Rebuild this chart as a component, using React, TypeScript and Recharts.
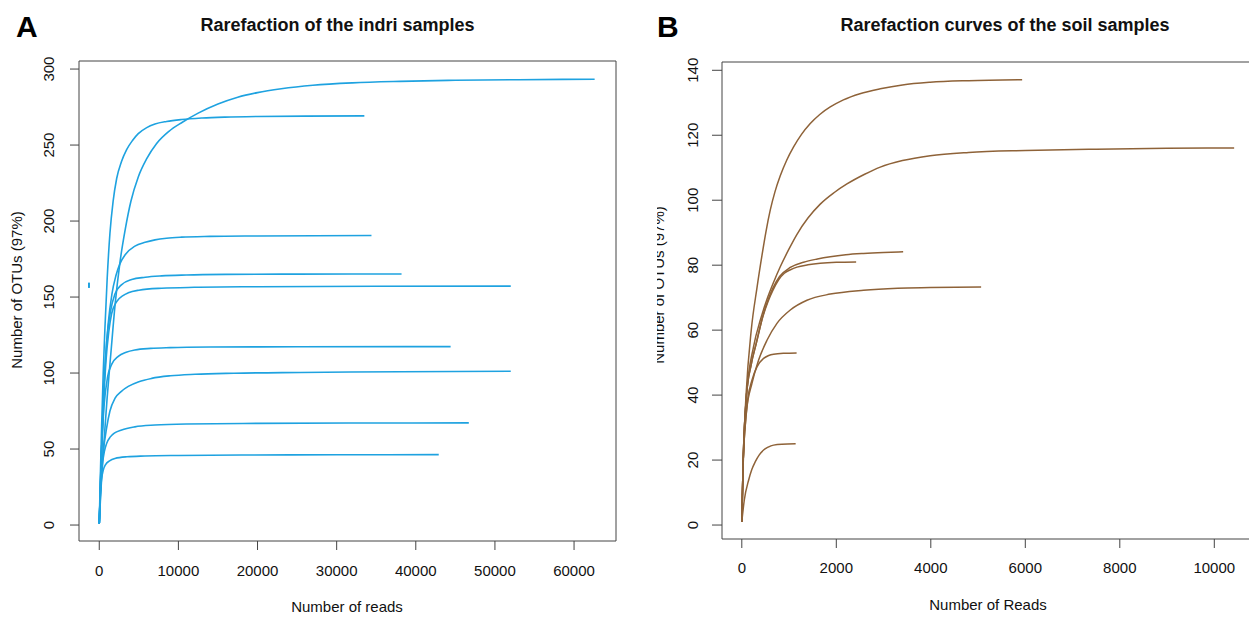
import React from "react";
import { LineChart, Line, XAxis, YAxis, ReferenceArea } from "recharts";

// ---------- Panel A: indri samples, [reads, OTUs] ----------
const indriCurve1 = [[0,1],[200,22],[500,48],[1000,84],[1500,115],[2000,145],[2620,173],[3300,195],[4000,213],[4930,229],[6000,241],[7250,251],[8800,259],[10500,265],[12500,271],[15000,277],[17500,281.5],[20000,284.5],[23000,287],[27000,289.3],[32000,290.9],[38000,291.9],[45000,292.6],[53000,293],[62600,293.3]];
const indriCurve2 = [[0,1],[150,35],[300,65],[500,100],[720,130],[1000,162],[1350,192],[1750,213],[2200,228],[2800,239],[3460,247],[4200,253],[4930,257.5],[6000,261.5],[7040,263.8],[8500,265.5],[10400,266.8],[13000,267.8],[15900,268.4],[20000,268.8],[26000,269],[33500,269.2]];
const indriCurve3 = [[0,1],[200,35],[500,80],[800,110],[1140,133],[1600,152],[2100,164],[2620,172],[3300,178],[4510,183.5],[5800,186],[7040,187.6],[8500,188.7],[10400,189.4],[14000,189.9],[20000,190.2],[34400,190.5]];
const indriCurve4 = [[0,1],[300,50],[600,92],[930,120],[1400,140],[1980,152],[2800,158],[4100,161.5],[5800,163],[7880,163.9],[11000,164.5],[16000,164.9],[25000,165.1],[38200,165.2]];
const indriCurve5 = [[0,1],[300,48],[600,86],[850,108],[1200,127],[1560,139],[2200,147],[3000,151],[3670,152.8],[5000,154.5],[7880,155.8],[12000,156.4],[20000,156.8],[35000,157.1],[52000,157.2]];
const indriCurve6 = [[0,1],[250,45],[600,78],[1060,97.6],[1600,106],[2400,111],[3400,113.7],[4510,115.2],[6500,116.2],[8950,116.7],[14000,117.1],[25000,117.3],[44400,117.4]];
const indriCurve7 = [[0,1],[200,30],[500,48],[900,63],[1350,75],[2000,83.5],[2800,88],[3670,91.2],[5000,94.3],[6620,96.5],[9000,98.2],[12100,99.2],[17000,99.9],[25400,100.4],[38000,100.9],[52000,101.2]];
const indriCurve8 = [[0,1],[200,26],[400,40],[650,48.5],[930,53.7],[1400,58],[2000,60.8],[2830,62.6],[4500,64.6],[7040,65.8],[11000,66.5],[20000,66.9],[32000,67.1],[46700,67.2]];
const indriCurve9 = [[0,1],[150,22],[300,30.5],[500,36],[800,39.8],[1300,42.2],[1980,43.8],[3500,44.9],[5780,45.4],[10000,45.8],[18000,46.1],[30000,46.2],[42900,46.3]];
const indriStray = [[-1300,156],[-1300,159.5]];

const indriXTicks = [0, 10000, 20000, 30000, 40000, 50000, 60000];
const indriYTicks = [0, 50, 100, 150, 200, 250, 300];

// ---------- Panel B: soil samples, [reads, OTUs] ----------
const soilCurve1 = [[0,1],[30,20],[90,40],[200,60],[321,73],[427,83],[510,90.2],[603,97],[700,102.5],[814,107.5],[950,112.3],[1096,116.4],[1260,120.2],[1449,123.6],[1650,126.4],[1872,128.7],[2150,130.9],[2500,132.8],[2930,134.3],[3400,135.5],[3987,136.3],[4800,136.8],[5933,137.1]];
const soilCurve2 = [[0,1],[30,20],[100,40],[250,55],[400,63.5],[533,69.5],[680,75],[814,79.5],[1000,85],[1168,89.5],[1400,94.5],[1660,98.8],[1950,102.3],[2225,105],[2600,108],[2930,110.2],[3400,112.2],[3987,113.7],[4800,114.7],[6000,115.3],[7500,115.7],[9000,116],[10420,116.1]];
const soilCurve3 = [[0,1],[30,20],[100,40],[200,49.5],[307,56],[448,64.5],[560,69.5],[660,73],[800,76.5],[1026,79.3],[1307,80.9],[1600,81.9],[1872,82.6],[2200,83.2],[2576,83.6],[3000,83.9],[3415,84.1]];
const soilCurve4 = [[0,1],[30,20],[100,40],[200,49.5],[307,56],[448,64.3],[560,69],[660,72.3],[780,75.5],[900,77.5],[1030,78.6],[1168,79.4],[1400,80.1],[1660,80.6],[2000,80.9],[2420,81]];
const soilCurve5 = [[0,1],[30,19],[100,35],[215,43.6],[356,50.8],[533,56.9],[744,62.1],[1026,66.2],[1379,69.2],[1872,71.1],[2576,72.3],[3300,72.9],[3987,73.1],[5065,73.3]];
const soilCurve6 = [[0,1],[30,20],[70,30],[123,38.5],[215,44.6],[321,48.7],[461,51.3],[570,52.2],[673,52.6],[900,52.9],[1160,53]];
const soilCurve7 = [[0,1],[53,7.7],[144,13.8],[210,17],[286,19.5],[370,21.6],[461,23.1],[560,24],[673,24.6],[850,24.9],[1140,25]];

const soilXTicks = [0, 2000, 4000, 6000, 8000, 10000];
const soilYTicks = [0, 20, 40, 60, 80, 100, 120, 140];

const indriCurves = [indriCurve1, indriCurve2, indriCurve3, indriCurve4, indriCurve5, indriCurve6, indriCurve7, indriCurve8, indriCurve9];
const soilCurves = [soilCurve1, soilCurve2, soilCurve3, soilCurve4, soilCurve5, soilCurve6, soilCurve7];

const toPts = (arr: number[][]) => arr.map(([x, y]) => ({ x, y }));

const FONT = "'Liberation Sans', Arial, Helvetica, sans-serif";
const BLUE = "#1ea2e0";
const BROWN = "#8e6238";
const AXIS = "#444";

const xDomA: [number, number] = [-2560, 65300];
const yDomA: [number, number] = [-10.5, 305.3];
const xDomB: [number, number] = [-419, 10840];
const yDomB: [number, number] = [-4.3, 142.55];

function makeYTick(offset: number) {
  return (props: any) => {
    const { x, y, payload } = props;
    const bx = x - offset;
    return (
      <text x={bx} y={y} transform={`rotate(-90 ${bx} ${y})`} textAnchor="middle" fontSize={15} fill="#111" fontFamily={FONT}>
        {payload.value}
      </text>
    );
  };
}

function makeXTick(dy: number) {
  return (props: any) => {
    const { x, y, payload } = props;
    return (
      <text x={x} y={y + dy} textAnchor="middle" fontSize={15} fill="#111" fontFamily={FONT}>
        {payload.value}
      </text>
    );
  };
}

export default function App() {
  return (
    <div style={{ position: "fixed", left: 0, top: 0, width: 1249, height: 617, overflow: "hidden", background: "#fff" }}>
      <div style={{ position: "absolute", left: 0, top: 0 }}>
        <LineChart width={640} height={617} margin={{ top: 61, right: 24, bottom: 0, left: 0 }}>
          <XAxis type="number" dataKey="x" domain={xDomA} ticks={indriXTicks} height={76} axisLine={false}
            tickLine={{ stroke: AXIS }} tickSize={9} tickMargin={4} tick={makeXTick(22)} interval={0} allowDataOverflow />
          <YAxis type="number" domain={yDomA} ticks={indriYTicks} width={79} axisLine={false}
            tickLine={{ stroke: AXIS }} tickSize={9} tickMargin={0} tick={makeYTick(15.6)} interval={0} allowDataOverflow />
          <ReferenceArea x1={xDomA[0]} x2={xDomA[1]} y1={yDomA[0]} y2={yDomA[1]} fill="none" fillOpacity={0} stroke={AXIS} strokeWidth={1} ifOverflow="visible" />
          {indriCurves.map((c, i) => (
            <Line key={i} data={toPts(c)} dataKey="y" type="monotone" stroke={BLUE} strokeWidth={1.6} dot={false} activeDot={false} isAnimationActive={false} />
          ))}
          <Line data={toPts(indriStray)} dataKey="y" type="linear" stroke={BLUE} strokeWidth={2} dot={false} activeDot={false} isAnimationActive={false} />
        </LineChart>
      </div>
      <div style={{ position: "absolute", left: 640, top: 0 }}>
        <LineChart width={640} height={617} margin={{ top: 62, right: 26, bottom: 0, left: 0 }}>
          <XAxis type="number" dataKey="x" domain={xDomB} ticks={soilXTicks} height={78} axisLine={false}
            tickLine={{ stroke: AXIS }} tickSize={9} tickMargin={4} tick={makeXTick(21.4)} interval={0} allowDataOverflow />
          <YAxis type="number" domain={yDomB} ticks={soilYTicks} width={82} axisLine={false}
            tickLine={{ stroke: AXIS }} tickSize={10} tickMargin={0} tick={makeYTick(13.6)} interval={0} allowDataOverflow />
          <ReferenceArea x1={xDomB[0]} x2={xDomB[1]} y1={yDomB[0]} y2={yDomB[1]} fill="none" fillOpacity={0} stroke={AXIS} strokeWidth={1} ifOverflow="visible" />
          {soilCurves.map((c, i) => (
            <Line key={i} data={toPts(c)} dataKey="y" type="monotone" stroke={BROWN} strokeWidth={1.5} dot={false} activeDot={false} isAnimationActive={false} />
          ))}
        </LineChart>
      </div>
      <svg width={1249} height={617} style={{ position: "absolute", left: 0, top: 0, pointerEvents: "none" }} fontFamily={FONT}>
        <defs>
          <clipPath id="clipB">
            <rect x={657} y={0} width={60} height={617} />
          </clipPath>
        </defs>
        <text x={16} y={37} fontSize={30} fontWeight={700} fill="#000">A</text>
        <text x={657} y={37} fontSize={30} fontWeight={700} fill="#000">B</text>
        <text x={337.5} y={31} textAnchor="middle" fontSize={18} fontWeight={700} fill="#111">Rarefaction of the indri samples</text>
        <text x={1005} y={31} textAnchor="middle" fontSize={18} fontWeight={700} fill="#111">Rarefaction curves of the soil samples</text>
        <text x={347} y={612} textAnchor="middle" fontSize={15} fill="#111">Number of reads</text>
        <text x={988} y={610} textAnchor="middle" fontSize={15} fill="#111">Number of Reads</text>
        <text x={22} y={290} transform="rotate(-90 22 290)" textAnchor="middle" fontSize={15} fill="#111">Number of OTUs (97%)</text>
        <g clipPath="url(#clipB)">
          <text x={664} y={285} transform="rotate(-90 664 285)" textAnchor="middle" fontSize={15} fill="#111">Number of OTUs (97%)</text>
        </g>
      </svg>
    </div>
  );
}
